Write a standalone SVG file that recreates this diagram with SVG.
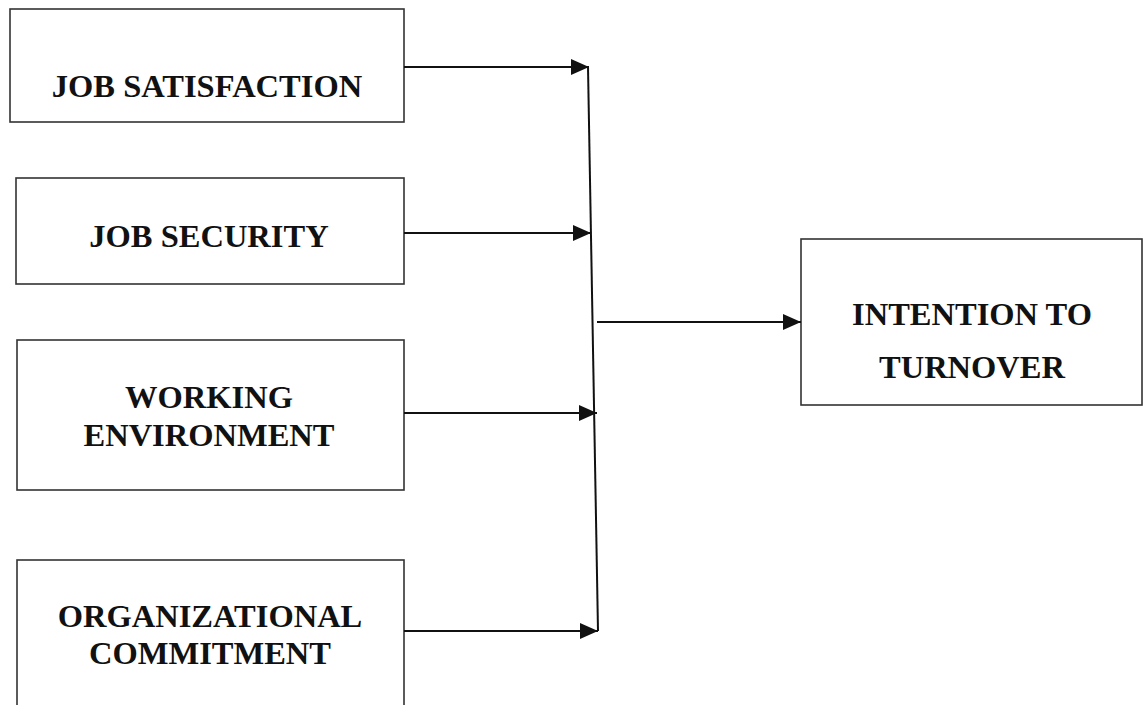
<svg xmlns="http://www.w3.org/2000/svg" width="1143" height="705" viewBox="0 0 1143 705">
<style>
.box{fill:#fff;stroke:#333;stroke-width:1.6}
.lbl{font-family:"Liberation Serif","Times New Roman",serif;font-weight:bold;font-size:32.5px;fill:#111;text-anchor:middle}
.con{stroke:#111;stroke-width:2;fill:none}
</style>
<defs>
<marker id="ah" markerUnits="userSpaceOnUse" markerWidth="20" markerHeight="16" refX="18" refY="8" orient="auto">
<path d="M0,0 L18,8 L0,16 Z" fill="#111"/>
</marker>
</defs>
<rect width="1143" height="705" fill="#fff"/>
<g id="n1"><rect class="box" x="10" y="9" width="394" height="113"/><text class="lbl" x="207" y="97">JOB SATISFACTION</text></g>
<g id="n2"><rect class="box" x="16" y="178" width="388" height="106"/><text class="lbl" x="209" y="247">JOB SECURITY</text></g>
<g id="n3"><rect class="box" x="17" y="340" width="387" height="150"/><text class="lbl" x="209" y="408">WORKING</text><text class="lbl" x="209" y="446">ENVIRONMENT</text></g>
<g id="n4"><rect class="box" x="17" y="560" width="387" height="160"/><text class="lbl" x="210" y="627">ORGANIZATIONAL</text><text class="lbl" x="210" y="664">COMMITMENT</text></g>
<g id="n5"><rect class="box" x="801" y="239" width="341" height="166"/><text class="lbl" x="972" y="325">INTENTION TO</text><text class="lbl" x="972" y="378">TURNOVER</text></g>
<g id="connectors">
<line class="con" x1="404" y1="67" x2="589" y2="67" marker-end="url(#ah)"/>
<line class="con" x1="404" y1="233" x2="591" y2="233" marker-end="url(#ah)"/>
<line class="con" x1="404" y1="413" x2="597" y2="413" marker-end="url(#ah)"/>
<line class="con" x1="404" y1="631" x2="598" y2="631" marker-end="url(#ah)"/>
<line class="con" x1="588" y1="67" x2="598" y2="631"/>
<line class="con" x1="597" y1="322" x2="801" y2="322" marker-end="url(#ah)"/>
</g>
</svg>
